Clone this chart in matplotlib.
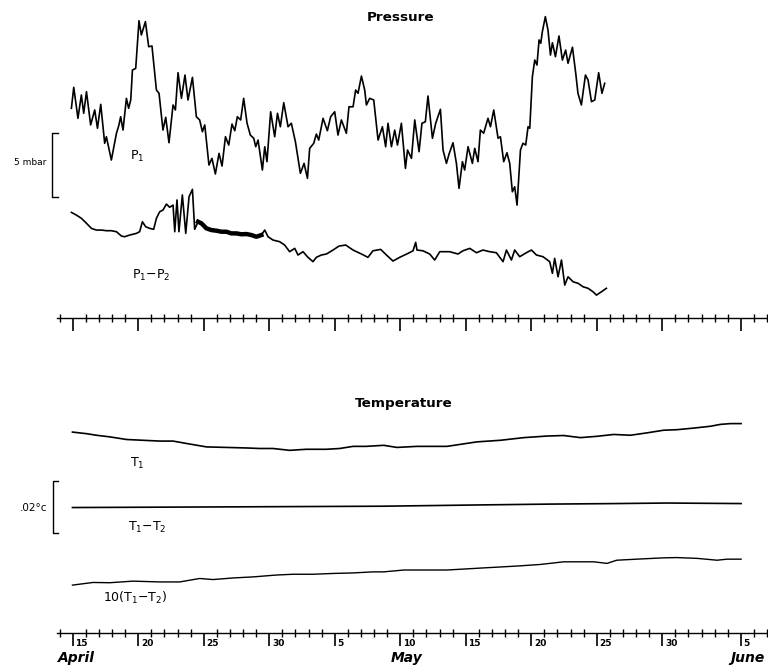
import matplotlib
matplotlib.use("Agg")
import matplotlib.pyplot as plt
from matplotlib.transforms import ScaledTranslation

plt.rcParams['font.family'] = ['DejaVu Sans']
plt.rcParams['mathtext.default'] = 'regular'

# time axis: days after 15 April
p1_day = [-0.10, 0.08, 0.40, 0.66, 0.84, 1.05, 1.37, 1.68, 1.89, 2.14,
          2.44, 2.57, 2.95, 3.34, 3.53, 3.66, 3.84, 4.10, 4.27, 4.43,
          4.56, 4.81, 5.06, 5.24, 5.55, 5.80, 6.05, 6.39, 6.59, 6.89,
          7.10, 7.35, 7.66, 7.84, 8.04, 8.30, 8.57, 8.80, 9.14, 9.44,
          9.69, 9.90, 10.08, 10.40, 10.63, 10.89, 11.17, 11.40, 11.66, 11.91,
          12.16, 12.37, 12.57, 12.82, 13.05, 13.31, 13.56, 13.82, 13.97, 14.15,
          14.48, 14.66, 14.83, 15.11, 15.42, 15.63, 15.85, 16.11, 16.44, 16.69,
          17.00, 17.38, 17.66, 17.92, 18.09, 18.40, 18.60, 18.78, 19.11, 19.44,
          19.69, 20.00, 20.25, 20.51, 20.89, 21.09, 21.40, 21.60, 21.78, 22.04,
          22.29, 22.42, 22.67, 22.98, 23.31, 23.64, 23.89, 24.07, 24.33, 24.58,
          24.79, 25.09, 25.40, 25.56, 25.86, 26.11, 26.44, 26.66, 26.92, 27.12,
          27.46, 27.71, 28.07, 28.27, 28.53, 28.73, 29.03, 29.29, 29.49, 29.75,
          29.92, 30.18, 30.51, 30.69, 30.94, 31.12, 31.37, 31.70, 31.89, 32.14,
          32.47, 32.65, 32.90, 33.15, 33.36, 33.56, 33.74, 33.92, 34.18, 34.37,
          34.58, 34.76, 34.89, 35.09, 35.27, 35.44, 35.60, 35.73, 35.85, 36.08,
          36.28, 36.47, 36.62, 36.85, 37.12, 37.38, 37.63, 37.81, 38.15, 38.40,
          38.57, 38.83, 39.14, 39.34, 39.60, 39.85, 40.15, 40.40, 40.61]
p1_mbar = [6.93, 8.57, 6.15, 7.97, 6.54, 8.23, 5.63, 6.80, 5.37, 7.24,
           4.20, 4.71, 2.89, 4.98, 5.63, 6.27, 5.23, 7.71, 6.93, 7.58,
           9.92, 10.05, 13.77, 12.66, 13.70, 11.74, 11.80, 8.36, 8.10, 5.23,
           6.23, 4.24, 7.19, 6.80, 9.71, 7.71, 9.53, 7.58, 9.35, 6.27,
           6.02, 5.10, 5.63, 2.50, 3.02, 1.80, 3.41, 2.42, 4.71, 4.06,
           5.70, 5.18, 6.27, 6.02, 7.71, 5.76, 4.84, 4.59, 3.93, 4.45,
           2.11, 3.93, 2.76, 6.66, 4.71, 6.54, 5.49, 7.37, 5.49, 5.76,
           4.32, 1.85, 2.63, 1.46, 3.80, 4.20, 4.92, 4.45, 6.15, 5.18,
           6.27, 6.66, 4.84, 6.02, 4.98, 7.05, 7.05, 8.36, 8.10, 9.45,
           8.36, 7.19, 7.71, 7.58, 4.45, 5.49, 3.93, 5.76, 3.93, 5.23,
           4.06, 5.76, 2.24, 3.67, 3.02, 6.02, 3.54, 5.76, 5.88, 7.89,
           4.59, 5.76, 6.85, 3.67, 2.63, 3.36, 4.24, 2.63, 0.68, 2.76,
           2.11, 3.93, 2.63, 3.80, 2.76, 5.23, 4.98, 6.15, 5.49, 6.80,
           4.59, 4.71, 2.76, 3.46, 2.63, 0.41, 0.80, -0.63, 3.67, 4.20,
           4.06, 5.49, 5.37, 9.40, 10.70, 10.31, 12.27, 12.01, 12.91, 14.09,
           13.05, 11.09, 12.05, 10.96, 12.58, 10.70, 11.48, 10.45, 11.70, 9.66,
           8.10, 7.19, 9.53, 9.14, 7.45, 7.58, 9.71, 8.10, 8.88]

dp_day = [-0.10, 0.28, 0.66, 1.05, 1.43, 1.81, 2.19, 2.57, 2.95, 3.34,
          3.72, 3.97, 4.35, 4.86, 5.11, 5.32, 5.57, 5.88, 6.18, 6.39,
          6.64, 6.89, 7.15, 7.40, 7.66, 7.79, 7.96, 8.11, 8.37, 8.63,
          8.88, 9.14, 9.31, 9.57, 9.82, 10.21, 10.59, 10.97, 11.35, 11.73,
          12.11, 12.50, 12.88, 13.26, 13.64, 14.02, 14.40, 14.66, 14.91, 15.29,
          15.80, 16.18, 16.56, 16.95, 17.20, 17.58, 17.96, 18.34, 18.60, 18.98,
          19.37, 19.87, 20.33, 20.84, 21.40, 22.04, 22.54, 22.92, 23.51, 23.95,
          24.45, 24.96, 25.60, 25.98, 26.18, 26.28, 26.74, 27.25, 27.63, 28.02,
          28.78, 29.41, 29.79, 30.31, 30.82, 31.32, 31.83, 32.34, 32.85, 33.11,
          33.49, 33.74, 34.12, 34.63, 35.02, 35.40, 35.90, 36.41, 36.62, 36.79,
          37.05, 37.31, 37.56, 37.81, 38.20, 38.58, 38.96, 39.34, 39.72, 39.98,
          40.36, 40.74]
dp_mbar = [-1.20, -1.41, -1.66, -2.05, -2.45, -2.58, -2.58, -2.63, -2.63, -2.71,
           -3.05, -3.10, -2.97, -2.84, -2.71, -1.93, -2.32, -2.45, -2.52, -1.66,
           -1.15, -1.02, -0.55, -0.80, -0.63, -2.71, -0.23, -2.71, 0.16, -2.84,
           0.02, 0.60, -2.52, -1.93, -2.05, -2.45, -2.58, -2.63, -2.71, -2.71,
           -2.84, -2.84, -2.91, -2.89, -2.97, -3.10, -2.97, -2.58, -3.10, -3.36,
           -3.49, -3.75, -4.27, -4.01, -4.53, -4.27, -4.71, -5.05, -4.71, -4.53,
           -4.45, -4.14, -3.83, -3.75, -4.14, -4.45, -4.71, -4.20, -4.09, -4.53,
           -5.00, -4.71, -4.40, -4.20, -3.54, -4.14, -4.20, -4.45, -4.92, -4.27,
           -4.27, -4.45, -4.20, -4.01, -4.35, -4.14, -4.27, -4.35, -5.05, -4.14,
           -4.92, -4.14, -4.66, -4.35, -4.14, -4.53, -4.66, -5.05, -5.96, -4.79,
           -6.23, -4.92, -6.88, -6.23, -6.62, -6.74, -7.01, -7.13, -7.40, -7.66,
           -7.40, -7.13]

# temperature traces, in units of 0.001 degC (offset for display)
t1_day = [-0.02, 1.05, 1.81, 2.82, 4.10, 5.37, 6.64, 7.66, 8.68, 10.21,
          11.73, 13.26, 14.27, 15.29, 16.56, 17.82, 19.37, 20.38, 21.40, 22.42,
          23.74, 24.75, 26.28, 28.57, 30.86, 32.65, 34.43, 36.21, 37.48, 38.76,
          40.02, 41.30, 42.57, 43.84, 45.11, 46.13, 47.40, 48.68, 49.44, 50.21, 51.02]
t1_val = [38.3, 37.7, 37.1, 36.5, 35.5, 35.2, 34.9, 34.9, 34.0, 32.7,
          32.5, 32.3, 32.1, 32.1, 31.4, 31.8, 31.8, 32.1, 32.9, 32.9,
          33.3, 32.5, 32.9, 32.9, 34.6, 35.2, 36.2, 36.8, 37.0, 36.2,
          36.7, 37.4, 37.1, 38.0, 39.0, 39.2, 39.8, 40.5, 41.2, 41.5, 41.5]

dt_day = [-0.02, 9.69, 23.66, 31.37, 36.46, 41.53, 45.35, 51.02]
dt_val = [9.8, 10.0, 10.3, 10.8, 11.1, 11.3, 11.5, 11.3]

dt10_day = [-0.02, 1.55, 2.82, 4.60, 6.64, 8.17, 9.69, 10.71, 12.24, 13.76,
            15.54, 16.82, 18.34, 19.87, 21.40, 22.92, 23.74, 25.27, 28.57, 31.37,
            33.92, 35.70, 37.48, 39.77, 40.79, 41.53, 43.05, 45.11, 46.13, 47.66,
            49.19, 49.96, 51.02]
dt10_val = [-19.5, -18.5, -18.6, -18.0, -18.3, -18.3, -17.0, -17.4, -16.8, -16.4,
            -15.7, -15.4, -15.4, -15.1, -14.9, -14.5, -14.5, -13.8, -13.8, -13.0,
            -12.3, -11.7, -10.7, -10.7, -11.3, -10.1, -9.7, -9.2, -9.1, -9.4,
            -10.1, -9.7, -9.7]

major_days = [0, 5, 10, 15, 20, 25, 30, 35, 40, 45, 51]
major_labels = ['15', '20', '25', '30', '5', '10', '15', '20', '25', '30', '5']
months = ['April', 'May', 'June']
month_days = [-1.15, 24.3, 50.2]

fig = plt.figure(figsize=(7.68, 6.66), dpi=100)
axp = fig.add_axes([0.0742, 0.5225, 0.9245, 0.470])
axt = fig.add_axes([0.0742, 0.0495, 0.9245, 0.357])

for ax in (axp, axt):
    ax.set_xlim(-1.2, 53.0)
    for s in ('top', 'left', 'right'):
        ax.spines[s].set_visible(False)
    ax.spines['bottom'].set_linewidth(1.0)
    ax.set_yticks([])
    ax.set_xticks(major_days)
    ax.set_xticks(range(-1, 54), minor=True)
    ax.tick_params(axis='x', which='minor', direction='inout', length=6, width=1.0)
    ax.tick_params(axis='x', which='major', direction='out', length=9, width=1.2)

axp.set_ylim(-9.45, 15.0)
axt.set_ylim(-37.6, 52.2)
axp.set_xticklabels([])

# pressure
axp.plot(p1_day, p1_mbar, color='black', lw=1.2)
axp.plot(dp_day, dp_mbar, color='black', lw=1.2)
noisy = [i for i, d in enumerate(dp_day) if 9.5 <= d <= 14.5]
axp.plot([dp_day[i] for i in noisy], [dp_mbar[i] for i in noisy], color='black', lw=3.2)

axp.text(25.0, 14.0, 'Pressure', ha='center', va='center', fontsize=9.7, fontweight='bold')
axp.text(4.35, 3.2, 'P$_1$', ha='left', va='center', fontsize=9)
axp.text(4.5, -6.1, 'P$_1$−P$_2$', ha='left', va='center', fontsize=9)
axp.plot([-1.15, -1.6, -1.6, -1.15], [0, 0, 5, 5], color='black', lw=1.0, clip_on=False)
axp.text(-2.0, 2.7, '5 mbar', ha='right', va='center', fontsize=6.5)

# temperature
axt.plot(t1_day, t1_val, color='black', lw=1.2)
axt.plot(dt_day, dt_val, color='black', lw=1.2)
axt.plot(dt10_day, dt10_val, color='black', lw=1.0)

axt.text(25.3, 49.2, 'Temperature', ha='center', va='center', fontsize=9.7, fontweight='bold')
axt.text(4.35, 26.5, 'T$_1$', ha='left', va='center', fontsize=9)
axt.text(4.2, 2.4, 'T$_1$−T$_2$', ha='left', va='center', fontsize=9)
axt.text(2.3, -24.4, '10(T$_1$−T$_2$)', ha='left', va='center', fontsize=9)
axt.plot([-1.1, -1.53, -1.53, -1.1], [0, 0, 20, 20], color='black', lw=1.0, clip_on=False)
axt.text(-1.9, 9.5, '.02°c', ha='right', va='center', fontsize=7.5)

axt.set_xticklabels(major_labels, fontsize=6.5, fontweight='bold')
axt.tick_params(axis='x', which='major', pad=-5)
for lbl in axt.get_xticklabels():
    lbl.set_horizontalalignment('left')
    lbl.set_transform(lbl.get_transform() + ScaledTranslation(2 / 72, 0, fig.dpi_scale_trans))

for name, d in zip(months, month_days):
    axt.text(d, -0.105, name, transform=axt.get_xaxis_transform(), ha='left', va='center',
             fontsize=10, fontweight='bold', style='italic')

fig.savefig('out.png', dpi=100)
